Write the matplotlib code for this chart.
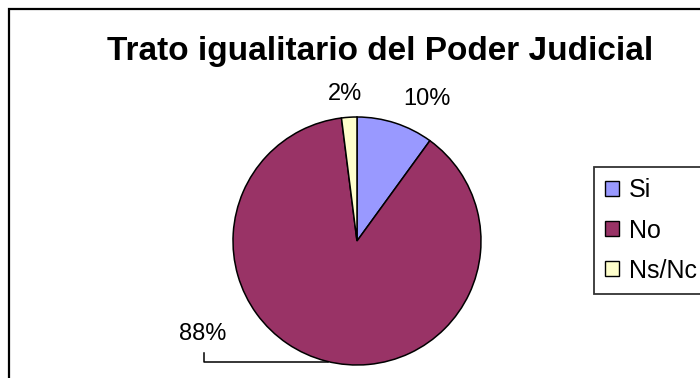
import matplotlib.pyplot as plt
from matplotlib.patches import Rectangle

plt.rcParams['font.family'] = ['Liberation Sans', 'DejaVu Sans']

titulo = 'Trato igualitario del Poder Judicial'
categorias = ['Si', 'No', 'Ns/Nc']
valores = [10, 88, 2]
colores = ['#9999FF', '#993366', '#FFFFCC']

W, H = 700, 378
fig = plt.figure(figsize=(W / 100, H / 100), dpi=100)
ax = fig.add_axes([0, 0, 1, 1])

def py(y):
    # pixel row (from top) -> axes y
    return H - y

wedges, _ = ax.pie(valores, colors=colores, startangle=90, counterclock=False,
                   center=(357, py(241)), radius=124,
                   wedgeprops=dict(edgecolor='black', linewidth=1.1))
ax.set_xlim(0, W)
ax.set_ylim(0, H)
ax.set_aspect('equal')
ax.axis('off')

# percentage labels
pos_etiquetas = [(427, 99), (203, 334), (345, 94)]
total = sum(valores)
for v, (x, y) in zip(valores, pos_etiquetas):
    ax.text(x, py(y), f'{round(100 * v / total)}%', ha='center', va='center',
            fontsize=17)

# leader line for the big slice
ax.plot([204, 204, 328], [py(353), py(362), py(362)], color='black', lw=1.1)

fig.text(380 / W, 1 - 60 / H, titulo, ha='center', va='baseline',
         fontsize=24, fontweight='bold')

leg = fig.legend(wedges, categorias, loc='upper left',
                 bbox_to_anchor=(594 / W, 1 - 167 / H),
                 fontsize=18, frameon=True, fancybox=False,
                 edgecolor='black', handlelength=0.55, handleheight=0.55,
                 handletextpad=0.4, labelspacing=0.65, borderpad=0.45,
                 borderaxespad=0)
leg.get_frame().set_linewidth(1.3)
for h in leg.legend_handles:
    h.set_edgecolor('black')
    h.set_linewidth(1.0)

# chart border
fig.patches.append(Rectangle((9 / W, -0.05), 1.0, 1 - 9 / H + 0.05,
                             transform=fig.transFigure, fill=False,
                             edgecolor='black', linewidth=1.6))

fig.savefig('out.png', dpi=100)
